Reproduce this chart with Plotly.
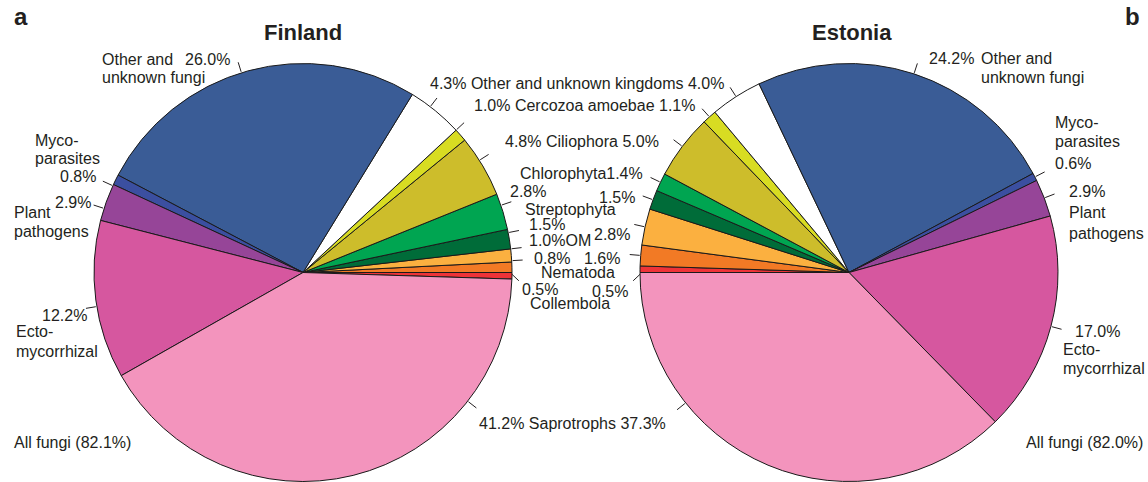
import math
import plotly.graph_objects as go

W, H = 1148, 482

# ---------------- data ----------------
categories = ["Collembola", "Nematoda", "OM", "Streptophyta", "Chlorophyta", "Ciliophora",
              "Cercozoa amoebae", "Other and unknown kingdoms", "Other and unknown fungi",
              "Mycoparasites", "Plant pathogens", "Ectomycorrhizal", "Saprotrophs"]
finland_values = [0.5, 0.8, 1.0, 1.5, 2.8, 4.8, 1.0, 4.3, 26.0, 0.8, 2.9, 12.2, 41.2]
estonia_values = [0.5, 1.6, 2.8, 1.5, 1.4, 5.0, 1.1, 4.0, 24.2, 0.6, 2.9, 17.0, 37.3]
all_fungi = {"Finland": 82.1, "Estonia": 82.0}
titles = ["Finland", "Estonia"]
panel_letters = ["a", "b"]

# ---------------- style ----------------
slice_colors = ["#EE3338", "#F27A25", "#FBB040", "#006C39", "#00A551", "#CDBD2B",
                "#D8DC22", "#FFFFFF", "#3A5C96", "#3B4FA0", "#964598", "#D6579F", "#F394BD"]
TXT = "#231F20"
FONT = "Liberation Sans, Arial, sans-serif"

# pie geometry in pixels (center x, center y, radius)
geo = {"Finland": (303, 272.5, 209), "Estonia": (849, 272.5, 209)}


def dom(name):
    cx, cy, r = geo[name]
    return dict(x=[(cx - r) / W, (cx + r) / W], y=[1 - (cy + r) / H, 1 - (cy - r) / H])


fig = go.Figure()
fig.add_trace(go.Pie(labels=categories, values=finland_values, sort=False,
                     direction="counterclockwise", rotation=90, domain=dom("Finland"),
                     marker=dict(colors=slice_colors, line=dict(color="#1a1a1a", width=1)),
                     textinfo="none", hoverinfo="label+percent", showlegend=False))
fig.add_trace(go.Pie(labels=categories, values=estonia_values, sort=False,
                     direction="clockwise", rotation=-90, domain=dom("Estonia"),
                     marker=dict(colors=slice_colors, line=dict(color="#1a1a1a", width=1)),
                     textinfo="none", hoverinfo="label+percent", showlegend=False))

annotations = []
shapes = []


def text(x, y, s, anchor="left", size=16, bold=False):
    annotations.append(dict(x=x / W, y=1 - y / H, xref="paper", yref="paper",
                            text=("<b>" + s + "</b>") if bold else s,
                            showarrow=False, xanchor=anchor, yanchor="middle",
                            font=dict(family=FONT, size=size, color=TXT)))


def mid_angles(values, start, sign):
    tot = sum(values)
    out, acc = [], 0.0
    for v in values:
        out.append(start + sign * (acc + v / 2) / tot * 360)
        acc += v
    return out


def tick(name, a_in, a_out=None, r_in_add=1, r_out_add=11):
    cx, cy, r = geo[name]
    if a_out is None:
        a_out = a_in
    x0 = cx + (r + r_in_add) * math.cos(math.radians(a_in))
    y0 = cy - (r + r_in_add) * math.sin(math.radians(a_in))
    x1 = cx + (r + r_out_add) * math.cos(math.radians(a_out))
    y1 = cy - (r + r_out_add) * math.sin(math.radians(a_out))
    shapes.append(dict(type="line", xref="paper", yref="paper", x0=x0 / W, y0=1 - y0 / H,
                       x1=x1 / W, y1=1 - y1 / H, line=dict(color=TXT, width=1)))


fi_ang = mid_angles(finland_values, 0, 1)
es_ang = mid_angles(estonia_values, 180, -1)

# ticks (radial at slice middles, except the two where labels sit elsewhere)
for i in range(1, 12):
    tick("Finland", fi_ang[i])
    tick("Estonia", es_ang[i])
tick("Finland", -38)
tick("Estonia", 218.6)
tick("Finland", -0.5, -2.2, 0, 7)
tick("Estonia", 180.5, 182.2, 0, 7)

f = lambda v: f"{v:.1f}%"
fi, es = finland_values, estonia_values

# titles and panel letters
text(303, 33, titles[0], "center", 22, True)
text(852, 33, titles[1], "center", 22, True)
text(12, 17, panel_letters[0], "left", 24, True)
text(1142, 17, panel_letters[1], "right", 24, True)

# Finland left side
text(100, 59, "Other and")
text(100, 78, "unknown fungi")
text(183, 59, f(fi[8]))
text(33, 140, "Myco-")
text(33, 159, "parasites")
text(98, 176, f(fi[9]), "right")
text(53, 202, f(fi[10]))
text(12, 212, "Plant")
text(12, 231, "pathogens")
text(40, 315, f(fi[11]))
text(14, 331, "Ecto-")
text(14, 351, "mycorrhizal")
text(12, 442, f"All fungi ({all_fungi['Finland']:.1f}%)")

# shared middle labels
text(572, 423, f"{f(fi[12])} Saprotrophs {f(es[12])}", "center")
text(428, 83, f"{f(fi[7])} Other and unknown kingdoms {f(es[7])}")
text(472, 105, f"{f(fi[6])} Cercozoa amoebae {f(es[6])}")
text(503, 141, f"{f(fi[5])} Ciliophora {f(es[5])}")
text(518, 173, f"Chlorophyta{f(es[4])}")
text(508, 192, f(fi[4]))
text(523, 209, "Streptophyta")
text(597, 197, f(es[3]))
text(527, 224, f(fi[3]))
text(527, 240, f"{f(fi[2])}OM")
text(592, 234, f(es[2]))
text(532, 258, f(fi[1]))
text(582, 258, f(es[1]))
text(539, 272, "Nematoda")
text(520, 289, f(fi[0]))
text(590, 291, f(es[0]))
text(528, 303, "Collembola")

# Estonia right side
text(927, 58, f(es[8]))
text(979, 58, "Other and")
text(979, 78, "unknown fungi")
text(1053, 123, "Myco-")
text(1053, 141, "parasites")
text(1053, 163, f(es[9]))
text(1067, 192, f(es[10]))
text(1067, 212, "Plant")
text(1067, 233, "pathogens")
text(1073, 331, f(es[11]))
text(1061, 349, "Ecto-")
text(1061, 368, "mycorrhizal")
text(1024, 442, f"All fungi ({all_fungi['Estonia']:.1f}%)")

fig.update_layout(width=W, height=H, margin=dict(l=0, r=0, t=0, b=0),
                  paper_bgcolor="white", plot_bgcolor="white",
                  annotations=annotations, shapes=shapes, showlegend=False)

fig.write_html("out.html", config={"displayModeBar": False},
               post_script="document.body.style.margin='0';document.body.style.overflow='hidden';")
